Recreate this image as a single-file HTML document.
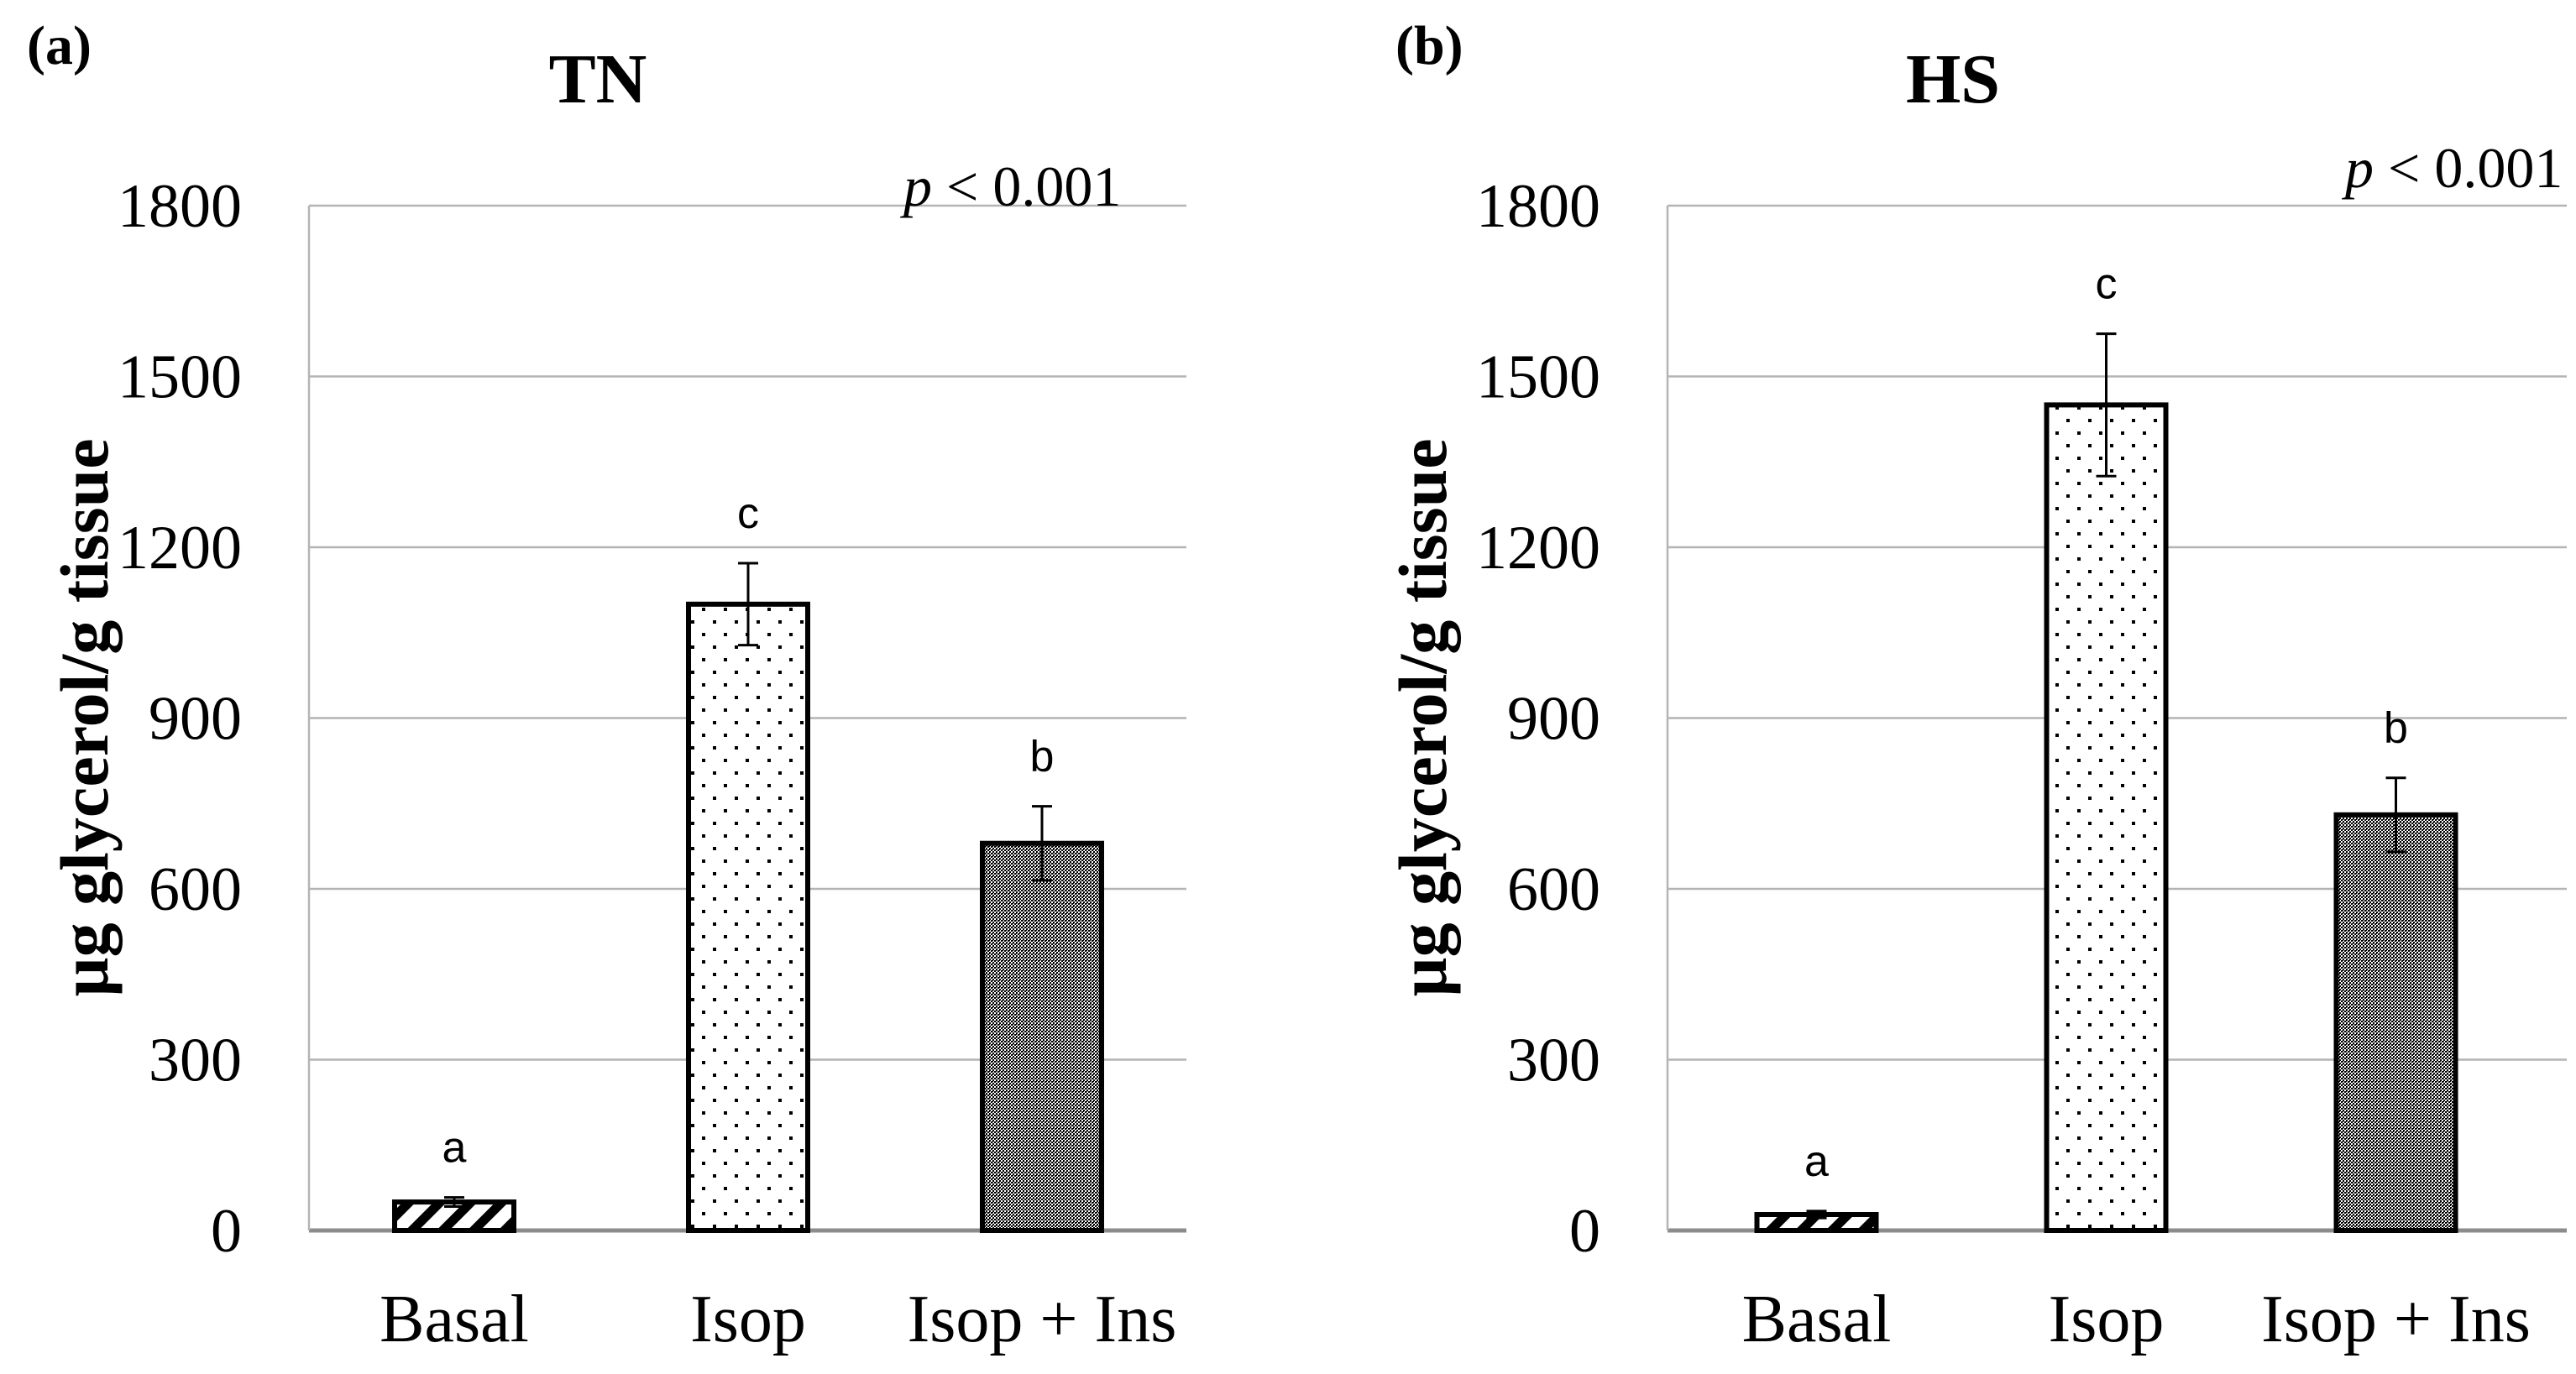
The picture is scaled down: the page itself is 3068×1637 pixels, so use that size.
<!DOCTYPE html>
<html><head><meta charset="utf-8"><style>
html,body{margin:0;padding:0;background:#fff;}
svg{display:block;}
</style></head><body>
<svg id="chart" width="3068" height="1637" viewBox="0 0 3068 1637" xmlns="http://www.w3.org/2000/svg">
<defs>
<pattern id="hatch" patternUnits="userSpaceOnUse" width="26" height="26" patternTransform="rotate(45)">
<rect width="26" height="26" fill="#fff"/><rect x="0" y="0" width="11" height="26" fill="#000"/></pattern>
<pattern id="dots" patternUnits="userSpaceOnUse" width="26" height="30">
<rect width="26" height="30" fill="#fff"/><rect x="4" y="4" width="4" height="4" fill="#000"/><rect x="17" y="19" width="4" height="4" fill="#000"/></pattern>
<pattern id="dense" patternUnits="userSpaceOnUse" width="4" height="4">
<rect width="4" height="4" fill="#fff"/><rect x="0" y="0" width="2" height="2" fill="#000"/><rect x="2" y="2" width="2" height="2" fill="#000"/><rect x="2" y="0" width="1" height="1" fill="#000"/></pattern>
</defs>
<g id="root"></g>
</svg>
<script>
const categories = ["Basal", "Isop", "Isop + Ins"];
const tnValues = [50, 1100, 680];
const tnErrors = [8, 72, 65];
const hsValues = [28, 1450, 730];
const hsErrors = [6, 125, 65];
const tnLetters = ["a", "c", "b"];
const hsLetters = ["a", "c", "b"];
const yTicks = [0, 300, 600, 900, 1200, 1500, 1800];

const NS = "http://www.w3.org/2000/svg";
const root = document.getElementById("root");
function mk(tag, attrs, txt){const e=document.createElementNS(NS,tag);for(const k in attrs)e.setAttribute(k,attrs[k]);if(txt!==undefined)e.textContent=txt;root.appendChild(e);return e;}
const y0 = 1466, y1800 = 245;
function yScale(v){return y0 - (v/1800)*(y0-y1800);}
const fills = ["url(#hatch)","url(#dots)","url(#dense)"];

function panel(id, axisX, gridEnd, bandStart, step, values, errors, letters, title, tag, tagX, titleX, pX, pY, yTitleX){
  yTicks.forEach(t=>{
    const g = mk("line",{x1:axisX,x2:gridEnd,y1:yScale(t),y2:yScale(t),stroke:t===0?"#8c8c8c":"#b4b4b4","stroke-width":t===0?5:2.5});
    
    
    const l = mk("text",{x:axisX-80,y:yScale(t)+25,"text-anchor":"end","font-family":"Liberation Serif, serif","font-size":74,fill:"#000"},String(t));
    
    
  });
  const ax = mk("line",{x1:axisX,x2:axisX,y1:y1800,y2:y0,stroke:"#b4b4b4","stroke-width":2.5});
  
  
  const bw = 142;
  categories.forEach((c,i)=>{
    const cx = bandStart + step*(i+0.5);
    const top = yScale(values[i]);
    const b = mk("rect",{x:cx-bw/2,y:top,width:bw,height:y0-top,fill:fills[i],stroke:"#000","stroke-width":6});
    
    
    const eT = yScale(values[i]+errors[i]), eB = yScale(values[i]-errors[i]);
    const e = mk("path",{d:`M${cx-12},${eT}H${cx+12}M${cx},${eT}V${eB}M${cx-12},${eB}H${cx+12}`,stroke:"#000","stroke-width":3,fill:"none"});
    
    
    const lt = mk("text",{x:cx,y:eT-42,"text-anchor":"middle","font-family":"Liberation Sans, sans-serif","font-size":52,fill:"#000"},letters[i]);
    
    
    const xl = mk("text",{x:cx,y:1598,"text-anchor":"middle","font-family":"Liberation Serif, serif","font-size":80,fill:"#000"},c);
    
    
  });
  const tt = mk("text",{x:titleX,y:122,"text-anchor":"middle","font-family":"Liberation Serif, serif","font-size":84,"font-weight":"bold",fill:"#000"},title);
  
  
  const tg = mk("text",{x:tagX,y:76,"font-family":"Liberation Serif, serif","font-size":66,"font-weight":"bold",fill:"#000"},tag);
  
  
  const p = mk("text",{x:pX,y:pY,"font-family":"Liberation Serif, serif","font-size":68,fill:"#000"});
  
  
  const pi = document.createElementNS(NS,"tspan");pi.setAttribute("font-style","italic");pi.textContent="p";p.appendChild(pi);
  p.appendChild(document.createTextNode(" < 0.001"));
  const yt = mk("text",{x:0,y:0,transform:`translate(${yTitleX},855) rotate(-90)`,"text-anchor":"middle","font-family":"Liberation Serif, serif","font-size":82,"font-weight":"bold",fill:"#000"},"µg glycerol/g tissue");
  
  
}
panel("tn", 368, 1413, 366, 350, tnValues, tnErrors, tnLetters, "TN", "(a)", 32, 712, 1076, 245, 128);
panel("hs", 1986, 3057, 1991, 345, hsValues, hsErrors, hsLetters, "HS", "(b)", 1662, 2326, 2793, 223, 1722);
</script>
</body></html>
